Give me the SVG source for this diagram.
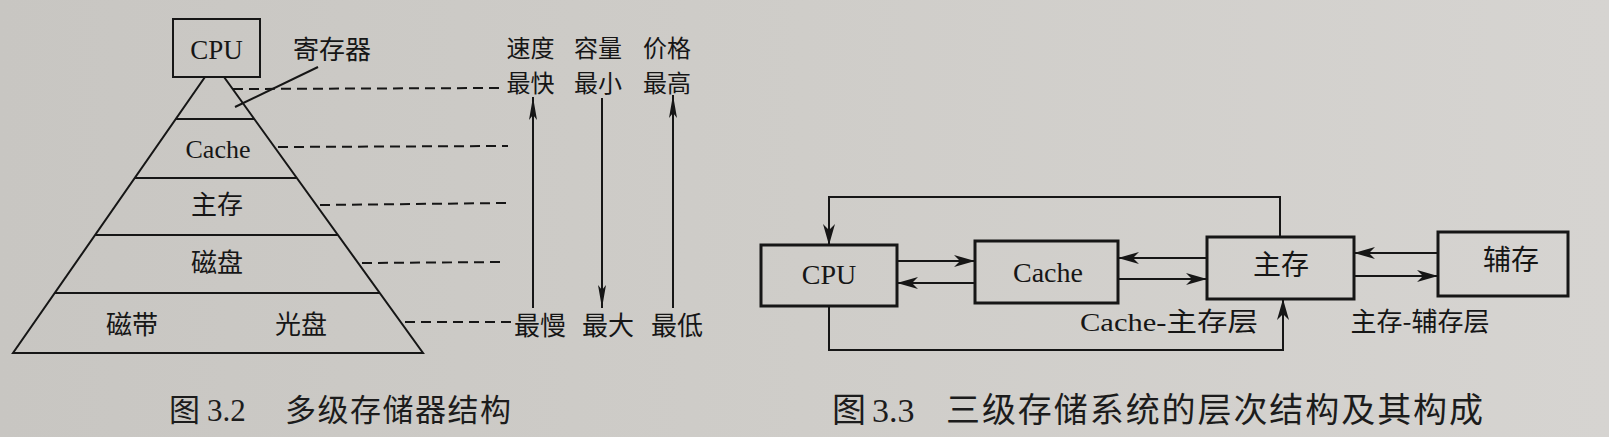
<svg xmlns="http://www.w3.org/2000/svg" width="1609" height="437" viewBox="0 0 1609 437">
<defs>
<linearGradient id="bg" x1="0" y1="0" x2="1" y2="0">
<stop offset="0" stop-color="#c8c6c2"/>
<stop offset="0.5" stop-color="#cfcdc9"/>
<stop offset="1" stop-color="#d6d4d1"/>
</linearGradient>
<marker id="ahR" markerUnits="userSpaceOnUse" markerWidth="24" markerHeight="14" viewBox="-22 -7 24 14" refX="0" refY="0" orient="auto">
<path d="M0,0 L-21,-6 L-15,0 L-21,6 Z" fill="#161616"/>
</marker>
<marker id="ahL" markerUnits="userSpaceOnUse" markerWidth="26" markerHeight="10" viewBox="-24 -5 26 10" refX="0" refY="0" orient="auto">
<path d="M0,0 L-23,-4 L-18,0 L-23,4 Z" fill="#161616"/>
</marker>
<style>
.ln{stroke:#161616;stroke-width:2;fill:none}
.bx{stroke:#161616;stroke-width:3;fill:none}
.ds{stroke:#161616;stroke-width:2;fill:none;stroke-dasharray:10 6}
.t{font-family:"Liberation Serif","Noto Sans CJK SC",serif;fill:#161616}
.c{font-family:"Noto Sans CJK SC","Liberation Serif",sans-serif;fill:#161616}
.cap{font-family:"Noto Sans CJK SC","Liberation Sans",sans-serif;fill:#1c1c1c}
</style>
</defs>
<rect x="0" y="0" width="1609" height="437" fill="url(#bg)"/>

<!-- Figure 3.2 -->
<g id="cpu-top">
<rect class="ln" x="173" y="19" width="87" height="58"/>
<text class="t" x="216.5" y="59" font-size="27" text-anchor="middle">CPU</text>
</g>
<g id="pyramid">
<polygon class="ln" points="205,77 224,77 423,353 13,353"/>
<line class="ln" x1="175.8" y1="119" x2="254.3" y2="119"/>
<line class="ln" x1="134.7" y1="178" x2="296.8" y2="178"/>
<line class="ln" x1="95.1" y1="235" x2="337.9" y2="235"/>
<line class="ln" x1="54.7" y1="293" x2="379.7" y2="293"/>
</g>
<g id="register">
<text class="c" x="332" y="59" font-size="26" text-anchor="middle">寄存器</text>
<line class="ln" x1="318" y1="67" x2="235" y2="107"/>
</g>
<g id="cache-level">
<text class="t" x="218" y="158" font-size="26" text-anchor="middle">Cache</text>
</g>
<g id="main-level">
<text class="c" x="217" y="214" font-size="26" text-anchor="middle">主存</text>
</g>
<g id="disk-level">
<text class="c" x="217" y="272" font-size="26" text-anchor="middle">磁盘</text>
</g>
<g id="tape-level">
<text class="c" x="132" y="334" font-size="26" text-anchor="middle">磁带</text>
<text class="c" x="301" y="334" font-size="26" text-anchor="middle">光盘</text>
</g>
<g id="left-dashes">
<line class="ds" x1="233" y1="89" x2="500" y2="88"/>
<line class="ds" x1="278" y1="147" x2="508" y2="146"/>
<line class="ds" x1="320" y1="205" x2="507" y2="203"/>
<line class="ds" x1="362" y1="263" x2="506" y2="262"/>
<line class="ds" x1="405" y1="322" x2="512" y2="322"/>
</g>
<g id="speed">
<text class="c" x="530.5" y="57" font-size="24" text-anchor="middle">速度</text>
<text class="c" x="530.5" y="92" font-size="24" text-anchor="middle">最快</text>
<text class="c" x="540" y="335" font-size="26" text-anchor="middle">最慢</text>
<line class="ln" x1="533" y1="308" x2="533" y2="97" marker-end="url(#ahL)"/>
</g>
<g id="capacity">
<text class="c" x="598" y="57" font-size="24" text-anchor="middle">容量</text>
<text class="c" x="598" y="92" font-size="24" text-anchor="middle">最小</text>
<text class="c" x="608" y="335" font-size="26" text-anchor="middle">最大</text>
<line class="ln" x1="602" y1="98" x2="602" y2="308" marker-end="url(#ahL)"/>
</g>
<g id="price">
<text class="c" x="667" y="57" font-size="24" text-anchor="middle">价格</text>
<text class="c" x="667" y="92" font-size="24" text-anchor="middle">最高</text>
<text class="c" x="677" y="335" font-size="26" text-anchor="middle">最低</text>
<line class="ln" x1="673" y1="308" x2="673" y2="95" marker-end="url(#ahL)"/>
</g>
<g id="caption-32">
<text class="cap" y="421" font-size="31"><tspan x="169">图</tspan><tspan x="207" font-family="Liberation Serif, serif">3.2</tspan><tspan x="285" textLength="226" lengthAdjust="spacing">多级存储器结构</tspan></text>
</g>

<!-- Figure 3.3 -->
<g id="cpu">
<rect class="bx" x="761" y="245" width="136" height="61"/>
<text class="t" x="829" y="284" font-size="28" text-anchor="middle">CPU</text>
</g>
<g id="cache">
<rect class="bx" x="975" y="241" width="143" height="62"/>
<text class="t" x="1048" y="282" font-size="28" text-anchor="middle">Cache</text>
</g>
<g id="main-memory">
<rect class="bx" x="1207" y="237" width="147" height="62"/>
<text class="c" x="1281" y="275" font-size="28" text-anchor="middle">主存</text>
</g>
<g id="aux-memory">
<rect class="bx" x="1438" y="232" width="130" height="64"/>
<text class="c" x="1511" y="270" font-size="28" text-anchor="middle">辅存</text>
</g>
<g id="connectors">
<line class="ln" x1="897" y1="261" x2="975" y2="261" marker-end="url(#ahR)"/>
<line class="ln" x1="975" y1="283" x2="897" y2="283" marker-end="url(#ahR)"/>
<line class="ln" x1="1207" y1="258" x2="1118" y2="258" marker-end="url(#ahR)"/>
<line class="ln" x1="1118" y1="279" x2="1207" y2="279" marker-end="url(#ahR)"/>
<line class="ln" x1="1438" y1="253" x2="1354" y2="253" marker-end="url(#ahR)"/>
<line class="ln" x1="1354" y1="276" x2="1438" y2="276" marker-end="url(#ahR)"/>
<polyline class="ln" points="1280,237 1280,197 829,197 829,245" marker-end="url(#ahR)"/>
<polyline class="ln" points="829,306 829,350 1283,350 1283,299" marker-end="url(#ahR)"/>
</g>
<g id="layer-labels">
<text class="t" x="1080" y="331" font-size="26" textLength="178" lengthAdjust="spacingAndGlyphs">Cache-主存层</text>
<text class="c" x="1420" y="331" font-size="26" text-anchor="middle">主存-辅存层</text>
</g>
<g id="caption-33">
<text class="cap" y="422" font-size="34"><tspan x="832">图</tspan><tspan x="872" font-family="Liberation Serif, serif">3.3</tspan><tspan x="946" textLength="537" lengthAdjust="spacing">三级存储系统的层次结构及其构成</tspan></text>
</g>
</svg>
